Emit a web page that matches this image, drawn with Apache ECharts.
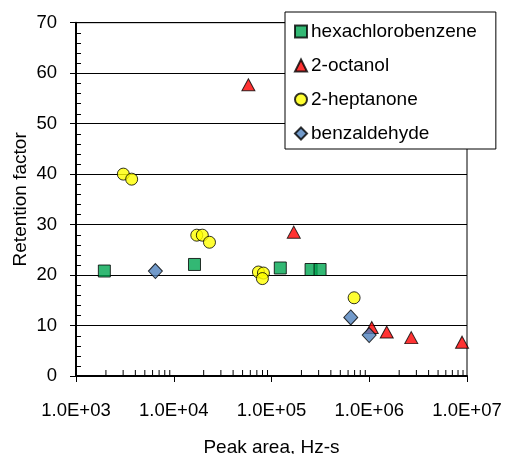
<!DOCTYPE html>
<html><head><meta charset="utf-8">
<script src="https://cdn.jsdelivr.net/npm/echarts@6/dist/echarts.min.js"></script>
<style>html,body{margin:0;padding:0;background:#fff}#c{width:506px;height:454px}</style>
</head><body><div id="c"></div>
<script>
// Data (x: peak area Hz-s, y: retention factor)
var hexachlorobenzene = [[1950,20.8],[16300,22.1],[123000,21.4],[254000,21.1],[314000,21.1]];
var octanol = [[58000,57.7],[169000,28.5],[1060000,9.6],[1510000,8.7],[2690000,7.6],[8900000,6.7]];
var heptanone = [[3050,40.0],[3710,39.0],[17200,27.9],[19600,27.9],[23200,26.5],[73500,20.6],[82700,20.4],[80700,19.3],[700000,15.5]];
var benzaldehyde = [[6490,20.8],[647000,11.6],[998000,8.1]];
var seriesNames = ['hexachlorobenzene','2-octanol','2-heptanone','benzaldehyde'];
// minor tick values (axis decorations)
var xMinorTicks = [];
[1e3,1e4,1e5,1e6].forEach(function(d){for(var k=2;k<=9;k++){xMinorTicks.push([d*k, 0]);}});
var yMinorTicks = [];
for (var t=0; t<70; t+=10){ for (var s=2; s<10; s+=2){ yMinorTicks.push([1000, t+s]); } }

var FONT = 'Liberation Sans, Arial, sans-serif';
var chart = echarts.init(document.getElementById('c'), null, {renderer:'canvas'});
function fmt(v){ var e = Math.round(Math.log10(v)); return '1.0E+' + (e<10?'0':'') + e; }
chart.setOption({
  animation:false,
  backgroundColor:'#fff',
  grid:{left:76, right:39, top:22.7, bottom:78, show:true, borderColor:'#000', borderWidth:1,
        backgroundColor:'transparent', containLabel:false, outerBoundsMode:'none'},
  xAxis:[{
    type:'log', logBase:10, min:1000, max:10000000,
    axisLine:{show:true, onZero:false, lineStyle:{color:'#000', width:2}},
    axisTick:{show:true, length:6, lineStyle:{color:'#000', width:1}},
    splitLine:{show:false},
    axisLabel:{formatter:fmt, fontFamily:FONT, fontSize:18.5, color:'#000', margin:25},
    name:'Peak area, Hz-s', nameLocation:'middle', nameGap:62, nameMoveOverlap:false,
    nameTextStyle:{fontFamily:FONT, fontSize:19, color:'#000'}
  }],
  yAxis:[{
    type:'value', min:0, max:70, interval:10,
    axisLine:{show:true, lineStyle:{color:'#000', width:2}},
    axisTick:{show:true, length:6, lineStyle:{color:'#000'}},
    splitLine:{show:true, lineStyle:{color:'#000', width:1}},
    axisLabel:{fontFamily:FONT, fontSize:18.5, color:'#000', margin:19},
    name:'Retention factor', nameLocation:'middle', nameGap:46, nameMoveOverlap:false,
    nameTextStyle:{fontFamily:FONT, fontSize:19, color:'#000'}
  }],
  legend:{
    orient:'vertical', left:285, top:12,
    padding:[10,19,6,9], itemGap:15, itemWidth:12, itemHeight:12,
    backgroundColor:'#fff', borderColor:'#000', borderWidth:1,
    textStyle:{fontFamily:FONT, fontSize:19, color:'#000', padding:[0,0,0,-1]},
    data:seriesNames
  },
  series:[
    {name:seriesNames[0], type:'scatter', data:hexachlorobenzene, symbol:'rect', symbolSize:12,
     itemStyle:{color:'#00A651', borderColor:'#000', borderWidth:1}, z:3},
    {name:seriesNames[1], type:'scatter', data:octanol, symbol:'triangle', symbolSize:[13,12],
     itemStyle:{color:'#FF0000', borderColor:'#000', borderWidth:1}, z:3},
    {name:seriesNames[2], type:'scatter', data:heptanone, symbol:'circle', symbolSize:12,
     itemStyle:{color:'#FFFF00', borderColor:'#000', borderWidth:1}, z:3},
    {name:seriesNames[3], type:'scatter', data:benzaldehyde, symbol:'diamond', symbolSize:[14,15],
     itemStyle:{color:'#4F81BD', borderColor:'#000', borderWidth:1}, z:3},
    {type:'custom', data:xMinorTicks, silent:true, clip:false, z:2,
     renderItem:function(params, api){
       var p = api.coord([api.value(0), api.value(1)]);
       return {type:'line', shape:{x1:p[0]+0.5, y1:p[1]-1, x2:p[0]+0.5, y2:p[1]-6}, style:{stroke:'#000', lineWidth:1}};
     }, encode:{x:0, y:1}},
    {type:'custom', data:yMinorTicks, silent:true, clip:false, z:2,
     renderItem:function(params, api){
       var p = api.coord([api.value(0), api.value(1)]);
       return {type:'line', shape:{x1:p[0]+1, y1:Math.round(p[1])+0.5, x2:p[0]+5, y2:Math.round(p[1])+0.5}, style:{stroke:'#000', lineWidth:1}};
     }, encode:{x:0, y:1}}
  ]
});
</script></body></html>
